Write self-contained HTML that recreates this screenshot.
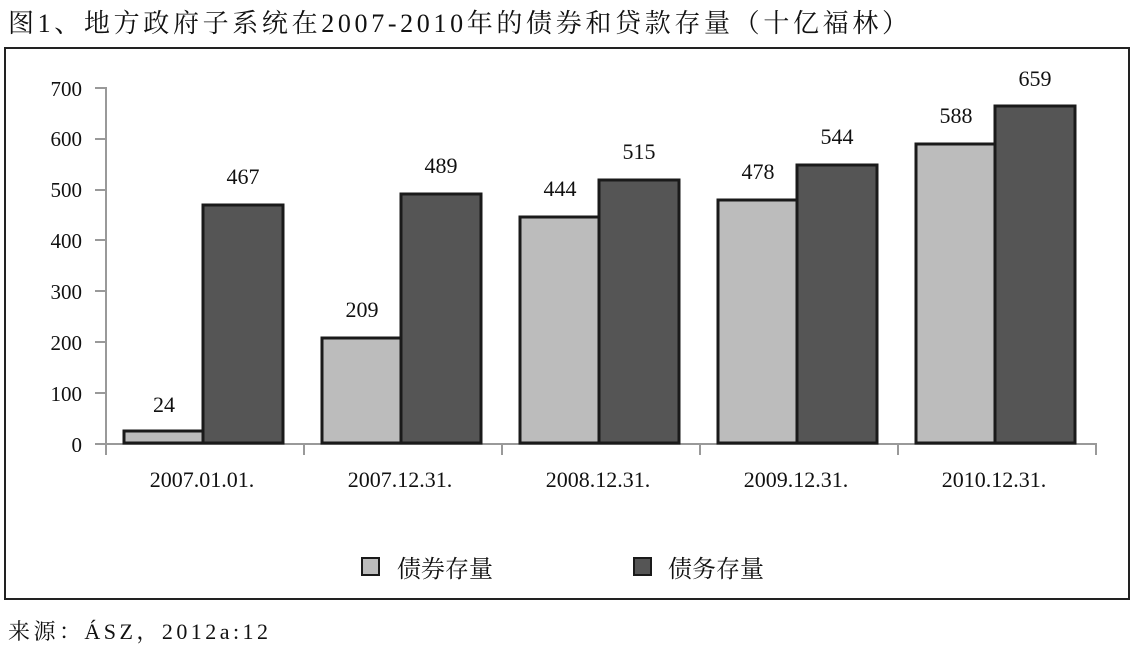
<!DOCTYPE html><html><head><meta charset="utf-8"><style>body{margin:0;background:#fff}svg{display:block}text{font-family:"Liberation Serif","Noto Serif CJK SC",serif;fill:#111}</style></head><body>
<svg width="1137" height="657" viewBox="0 0 1137 657">
<text x="8" y="32" font-size="26" textLength="900" lengthAdjust="spacing">图1、地方政府子系统在2007-2010年的债券和贷款存量（十亿福林）</text>
<rect x="5" y="48" width="1124" height="551" fill="none" stroke="#222" stroke-width="2"/>
<g font-size="21" text-anchor="end">
<text x="82" y="96">700</text><text x="82" y="146">600</text><text x="82" y="197">500</text><text x="82" y="248">400</text><text x="82" y="299">300</text><text x="82" y="350">200</text><text x="82" y="401">100</text><text x="82" y="452">0</text></g>
<g stroke="#999" stroke-width="2" fill="none">
<path d="M95 88H106V444M95 139H106M95 190H106M95 240H106M95 291H106M95 342H106M95 393H106M95 444H1097M106 444V455M304 444V455M502 444V455M700 444V455M898 444V455M1096 444V455"/></g>
<g stroke="#1a1a1a" stroke-width="3">
<rect x="124" y="431" width="79" height="12" fill="#bcbcbc"/><rect x="203" y="205" width="80" height="238" fill="#555"/>
<rect x="322" y="338" width="79" height="105" fill="#bcbcbc"/><rect x="401" y="194" width="80" height="249" fill="#555"/>
<rect x="520" y="217" width="79" height="226" fill="#bcbcbc"/><rect x="599" y="180" width="80" height="263" fill="#555"/>
<rect x="718" y="200" width="79" height="243" fill="#bcbcbc"/><rect x="797" y="165" width="80" height="278" fill="#555"/>
<rect x="916" y="144" width="79" height="299" fill="#bcbcbc"/><rect x="995" y="106" width="80" height="337" fill="#555"/>
</g>
<g font-size="22" text-anchor="middle">
<text x="164" y="412">24</text><text x="243" y="184">467</text>
<text x="362" y="317">209</text><text x="441" y="173">489</text>
<text x="560" y="196">444</text><text x="639" y="159">515</text>
<text x="758" y="179">478</text><text x="837" y="144">544</text>
<text x="956" y="123">588</text><text x="1035" y="86">659</text>
<text x="202" y="487">2007.01.01.</text><text x="400" y="487">2007.12.31.</text><text x="598" y="487">2008.12.31.</text><text x="796" y="487">2009.12.31.</text><text x="994" y="487">2010.12.31.</text>
</g>
<rect x="362" y="558" width="17" height="17" fill="#bcbcbc" stroke="#1a1a1a" stroke-width="2"/>
<text x="397" y="577" font-size="24">债券存量</text>
<rect x="634" y="558" width="17" height="17" fill="#555" stroke="#1a1a1a" stroke-width="2"/>
<text x="668" y="577" font-size="24">债务存量</text>
<text x="8" y="639" font-size="22" textLength="260" lengthAdjust="spacing">来源：ÁSZ，2012a:12</text>
</svg></body></html>
